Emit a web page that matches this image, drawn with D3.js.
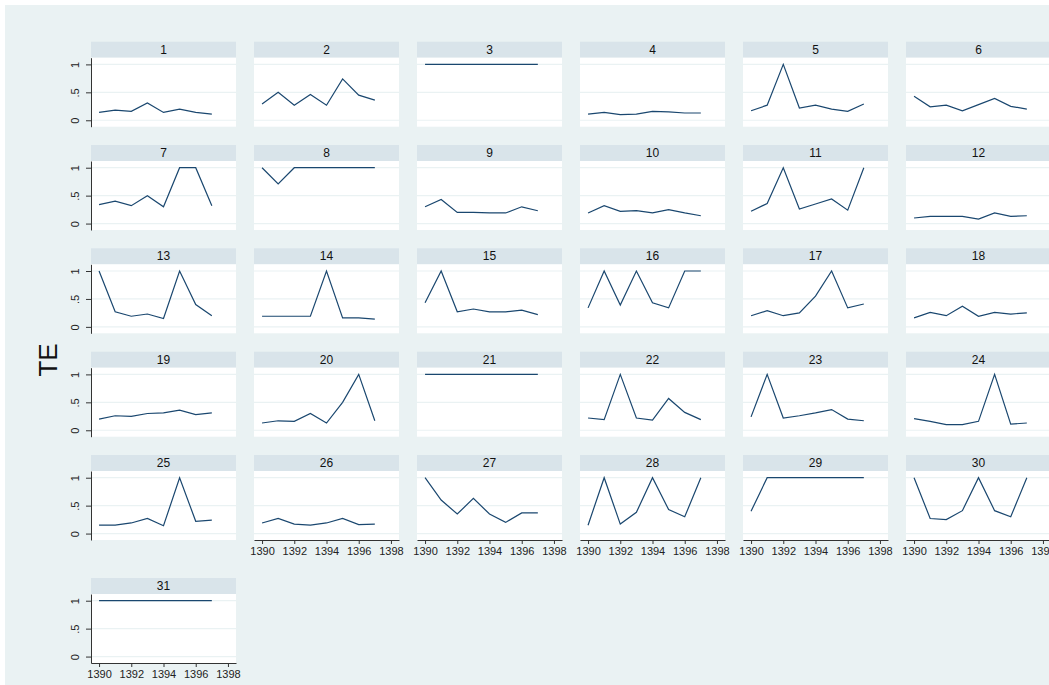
<!DOCTYPE html>
<html>
<head>
<meta charset="utf-8">
<script src="https://cdn.jsdelivr.net/npm/d3@7"></script>
<style>
  html, body { margin: 0; padding: 0; background: #fff; }
  svg { display: block; font-family: "Liberation Sans", Arial, sans-serif; }
</style>
</head>
<body>
<div id="chart"></div>
<script>
const years = [1390, 1391, 1392, 1393, 1394, 1395, 1396, 1397]
const xTicks = [1390, 1392, 1394, 1396, 1398]
const yTicks = [0, 0.5, 1]
const panelIds = d3.range(1, 32)

// TE per panel, 1390..1397
const teValues = [
    [0.14, 0.18, 0.16, 0.31, 0.14, 0.20, 0.14, 0.11],
    [0.29, 0.50, 0.27, 0.46, 0.27, 0.74, 0.45, 0.36],
    [1, 1, 1, 1, 1, 1, 1, 1],
    [0.11, 0.14, 0.10, 0.11, 0.16, 0.15, 0.13, 0.13],
    [0.17, 0.27, 1, 0.22, 0.27, 0.20, 0.16, 0.29],
    [0.43, 0.24, 0.27, 0.17, 0.28, 0.39, 0.25, 0.20],
    [0.34, 0.40, 0.32, 0.50, 0.30, 1, 1, 0.32],
    [1, 0.71, 1, 1, 1, 1, 1, 1],
    [0.30, 0.43, 0.20, 0.20, 0.19, 0.19, 0.30, 0.23],
    [0.19, 0.32, 0.22, 0.23, 0.19, 0.25, 0.19, 0.14],
    [0.22, 0.36, 1, 0.26, 0.35, 0.44, 0.24, 1],
    [0.10, 0.13, 0.13, 0.13, 0.08, 0.19, 0.13, 0.14],
    [1, 0.27, 0.19, 0.23, 0.15, 1, 0.40, 0.20],
    [0.19, 0.19, 0.19, 0.19, 1, 0.16, 0.16, 0.14],
    [0.43, 1, 0.27, 0.32, 0.27, 0.27, 0.30, 0.22],
    [0.34, 1, 0.39, 1, 0.43, 0.34, 1, 1],
    [0.20, 0.29, 0.20, 0.25, 0.55, 1, 0.34, 0.41],
    [0.16, 0.26, 0.20, 0.37, 0.19, 0.26, 0.23, 0.25],
    [0.20, 0.26, 0.25, 0.30, 0.31, 0.36, 0.28, 0.31],
    [0.13, 0.17, 0.16, 0.30, 0.13, 0.50, 1, 0.17],
    [1, 1, 1, 1, 1, 1, 1, 1],
    [0.22, 0.19, 1, 0.22, 0.18, 0.57, 0.32, 0.19],
    [0.24, 1, 0.22, 0.26, 0.31, 0.37, 0.20, 0.17],
    [0.21, 0.16, 0.10, 0.10, 0.16, 1, 0.11, 0.13],
    [0.15, 0.15, 0.19, 0.27, 0.14, 1, 0.22, 0.24],
    [0.19, 0.27, 0.17, 0.15, 0.19, 0.27, 0.16, 0.17],
    [1, 0.60, 0.35, 0.63, 0.35, 0.20, 0.37, 0.37],
    [0.15, 1, 0.17, 0.38, 1, 0.43, 0.30, 1],
    [0.40, 1, 1, 1, 1, 1, 1, 1],
    [1, 0.27, 0.25, 0.41, 1, 0.41, 0.30, 1],
    [1, 1, 1, 1, 1, 1, 1, 1]
]

const width = 1049, height = 685
const nCols = 6
const colX0 = 91, colStep = 163
const rowTops = [41.7, 145, 248.3, 351.7, 455, 578]
const headerH = 16, pw = 145, ph = 69

const svg = d3.select("#chart").append("svg")
    .attr("width", width)
    .attr("height", height)

svg.append("rect")
    .attr("x", 5).attr("y", 5)
    .attr("width", width - 5).attr("height", height - 5)
    .attr("fill", "#eaf2f3")

const x = d3.scaleLinear().domain([1389.5, 1398.5]).range([0, pw])
const y = d3.scaleLinear().domain([-0.115, 1.12]).range([ph, 0])

const line = d3.line()
    .x((d, i) => x(years[i]))
    .y(d => y(d))

panelIds.forEach((id, k) => {
    let col = k % nCols
    let row = Math.floor(k / nCols)
    let g = svg.append("g")
        .attr("transform", "translate(" + (colX0 + col * colStep) + "," + rowTops[row] + ")")

    // strip
    g.append("rect")
        .attr("width", pw).attr("height", headerH)
        .attr("fill", "#d9e4ea")
    g.append("text")
        .attr("x", pw / 2).attr("y", headerH / 2 + 4)
        .attr("text-anchor", "middle")
        .style("font-size", "12px")
        .style("fill", "#111")
        .text(id)

    let p = g.append("g").attr("transform", "translate(0," + headerH + ")")
    p.append("rect")
        .attr("width", pw).attr("height", ph)
        .attr("fill", "#fff")

    p.selectAll("line.grid")
        .data(yTicks)
        .enter()
        .append("line")
        .attr("class", "grid")
        .attr("x1", 0).attr("x2", pw)
        .attr("y1", d => y(d)).attr("y2", d => y(d))
        .attr("stroke", "#eaf2f3")
        .attr("stroke-width", 1.2)

    p.append("path")
        .datum(teValues[k])
        .attr("d", line)
        .attr("fill", "none")
        .attr("stroke", "#1a476f")
        .attr("stroke-width", 1.2)

    // y axis only on first column
    if (col === 0) {
        let ya = p.append("g")
            .call(d3.axisLeft(y).tickValues(yTicks).tickSize(5).tickSizeOuter(0)
                .tickFormat(d => d === 0.5 ? ".5" : d))
        ya.select(".domain").attr("stroke", "#333")
        ya.selectAll(".tick line").attr("stroke", "#333")
        ya.selectAll(".tick text")
            .attr("x", null).attr("dy", null)
            .attr("transform", "translate(-12,0)rotate(-90)")
            .attr("text-anchor", "middle")
            .style("font-size", "11px")
            .style("font-family", "Liberation Sans, Arial, sans-serif")
            .style("fill", "#222")
    }

    // x axis on the bottom panel of each column
    let isBottom = (k + nCols) >= panelIds.length
    if (isBottom) {
        let xa = p.append("g")
            .attr("transform", "translate(0," + ph + ")")
            .call(d3.axisBottom(x).tickValues(xTicks).tickSize(4).tickSizeOuter(0)
                .tickFormat(d3.format("d")))
        xa.select(".domain").attr("stroke", "#333")
        xa.selectAll(".tick line").attr("stroke", "#333")
        xa.selectAll(".tick text")
            .attr("y", 7)
            .style("font-size", "11px")
            .style("font-family", "Liberation Sans, Arial, sans-serif")
            .style("fill", "#222")
    }
})

svg.append("text")
    .attr("transform", "translate(57,360)rotate(-90)")
    .attr("text-anchor", "middle")
    .style("font-size", "26px")
    .style("fill", "#111")
    .text("TE")
</script>
</body>
</html>
